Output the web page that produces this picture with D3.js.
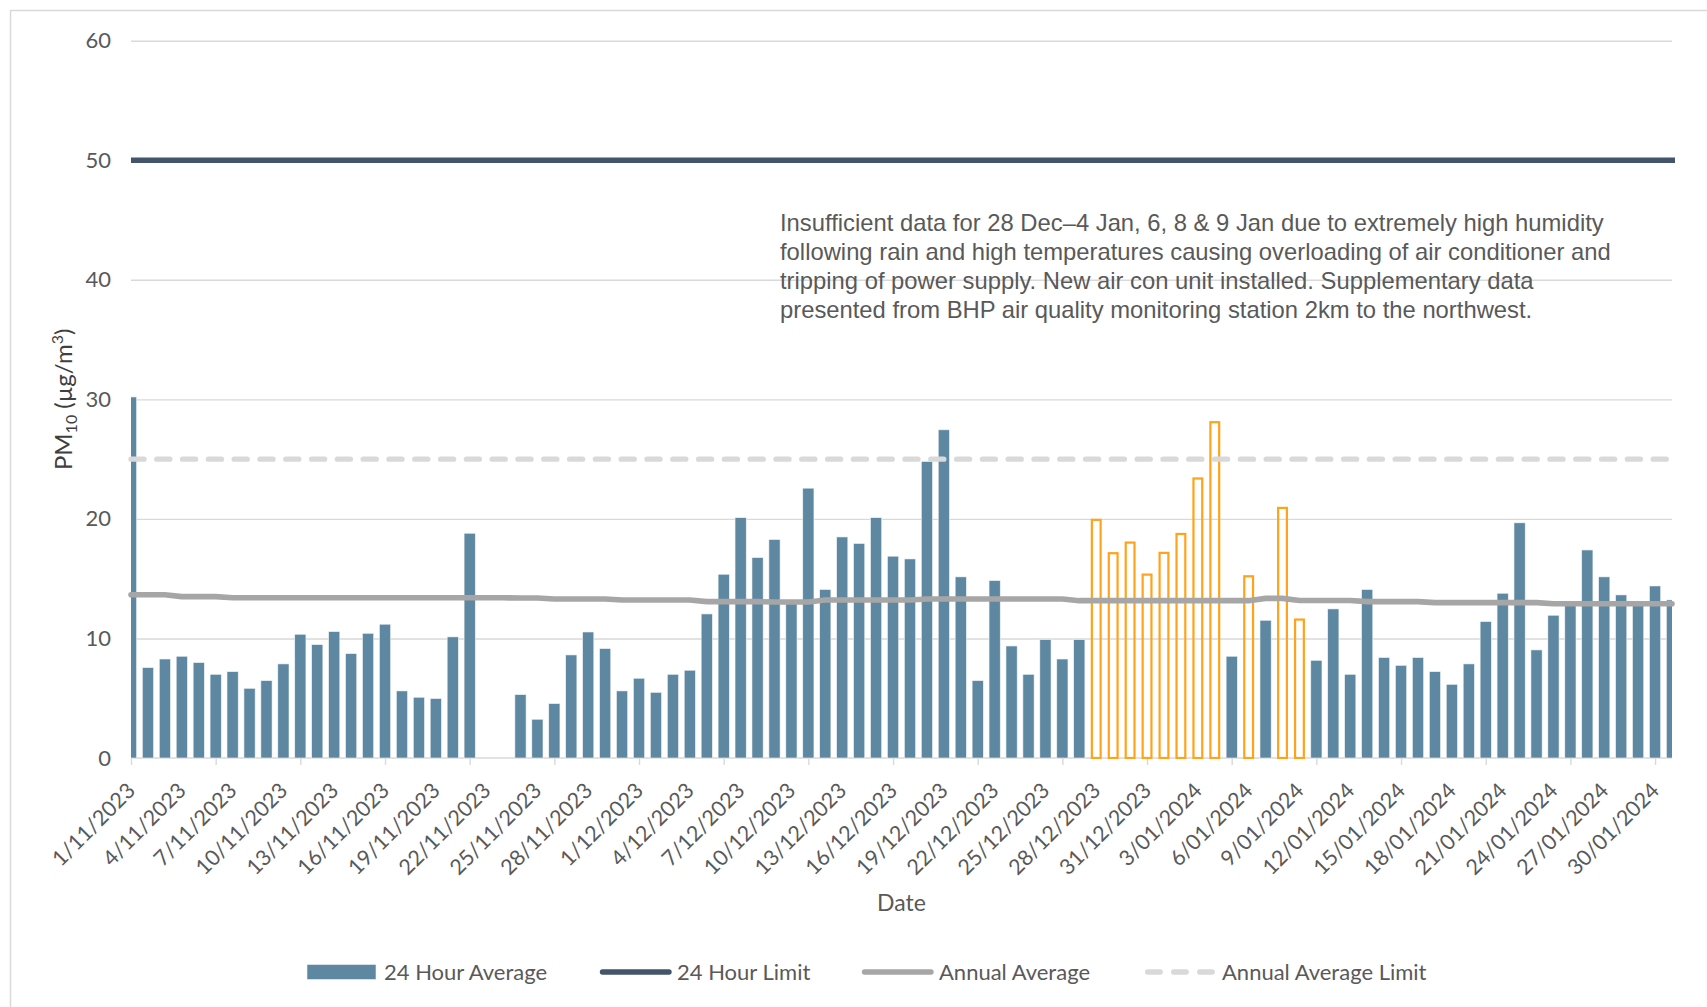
<!DOCTYPE html>
<html><head><meta charset="utf-8">
<script src="https://cdn.jsdelivr.net/npm/d3@7"></script>
<style>body{margin:0;background:#fff} svg{display:block}</style>
</head><body>
<svg id="c" width="1707" height="1007"></svg>
<script>
// ---------- DATA ----------
const dates = [
 "1/11/2023","2/11/2023","3/11/2023","4/11/2023","5/11/2023","6/11/2023","7/11/2023","8/11/2023","9/11/2023","10/11/2023",
 "11/11/2023","12/11/2023","13/11/2023","14/11/2023","15/11/2023","16/11/2023","17/11/2023","18/11/2023","19/11/2023","20/11/2023",
 "21/11/2023","22/11/2023","23/11/2023","24/11/2023","25/11/2023","26/11/2023","27/11/2023","28/11/2023","29/11/2023","30/11/2023",
 "1/12/2023","2/12/2023","3/12/2023","4/12/2023","5/12/2023","6/12/2023","7/12/2023","8/12/2023","9/12/2023","10/12/2023",
 "11/12/2023","12/12/2023","13/12/2023","14/12/2023","15/12/2023","16/12/2023","17/12/2023","18/12/2023","19/12/2023","20/12/2023",
 "21/12/2023","22/12/2023","23/12/2023","24/12/2023","25/12/2023","26/12/2023","27/12/2023","28/12/2023","29/12/2023","30/12/2023",
 "31/12/2023","1/01/2024","2/01/2024","3/01/2024","4/01/2024","5/01/2024","6/01/2024","7/01/2024","8/01/2024","9/01/2024",
 "10/01/2024","11/01/2024","12/01/2024","13/01/2024","14/01/2024","15/01/2024","16/01/2024","17/01/2024","18/01/2024","19/01/2024",
 "20/01/2024","21/01/2024","22/01/2024","23/01/2024","24/01/2024","25/01/2024","26/01/2024","27/01/2024","28/01/2024","29/01/2024",
 "30/01/2024","31/01/2024"
];
// 24 hour average PM10 (station data); null = no data
const pm10 = [
 30.2, 7.56, 8.28, 8.51, 7.98, 7.0, 7.22, 5.83, 6.47, 7.87,
 10.35, 9.48, 10.57, 8.73, 10.43, 11.19, 5.61, 5.08, 4.97, 10.13,
 18.8, null, null, 5.3, 3.24, 4.55, 8.62, 10.54, 9.15, 5.61,
 6.67, 5.49, 7.0, 7.34, 12.05, 15.37, 20.1, 16.76, 18.27, 12.9,
 22.57, 14.09, 18.49, 17.94, 20.1, 16.88, 16.65, 24.8, 27.45, 15.15,
 6.47, 14.84, 9.37, 7.0, 9.9, 8.28, 9.9, null, null, null,
 null, null, null, null, null, 8.51, null, 11.52, null, null,
 8.17, 12.47, 7.0, 14.09, 8.4, 7.75, 8.4, 7.22, 6.16, 7.87,
 11.41, 13.78, 19.67, 9.04, 11.94, 13.0, 17.4, 15.15, 13.64, 12.8,
 14.39, 13.22
];
// supplementary data (BHP station), shown as orange outlined bars
const supplementary = [
 null, null, null, null, null, null, null, null, null, null,
 null, null, null, null, null, null, null, null, null, null,
 null, null, null, null, null, null, null, null, null, null,
 null, null, null, null, null, null, null, null, null, null,
 null, null, null, null, null, null, null, null, null, null,
 null, null, null, null, null, null, null, 19.92, 17.13, 18.02,
 15.34, 17.16, 18.74, 23.38, 28.09, null, 15.2, null, 20.92, 11.58,
 null, null, null, null, null, null, null, null, null, null,
 null, null, null, null, null, null, null, null, null, null,
 null, null
];
const annualAverage = [
 13.65, 13.65, 13.65, 13.5, 13.5, 13.5, 13.4, 13.4, 13.4, 13.4,
 13.4, 13.4, 13.4, 13.4, 13.4, 13.4, 13.4, 13.4, 13.4, 13.4,
 13.4, 13.4, 13.4, 13.38, 13.38, 13.3, 13.3, 13.3, 13.3, 13.22,
 13.22, 13.22, 13.22, 13.22, 13.08, 13.08, 13.08, 13.08, 13.05, 13.05,
 13.05, 13.22, 13.22, 13.22, 13.22, 13.22, 13.22, 13.3, 13.3, 13.3,
 13.3, 13.3, 13.3, 13.3, 13.3, 13.3, 13.16, 13.16, 13.16, 13.16,
 13.16, 13.16, 13.16, 13.16, 13.16, 13.16, 13.16, 13.35, 13.35, 13.18,
 13.18, 13.18, 13.18, 13.08, 13.08, 13.08, 13.08, 13.0, 13.0, 13.0,
 13.0, 13.0, 13.0, 13.0, 12.9, 12.9, 12.9, 12.9, 12.9, 12.9,
 12.9, 12.9
];
const limit24h = 50;
const annualAverageLimit = 25;
const yTicks = [0, 10, 20, 30, 40, 50, 60];
const xLabelDates = dates.filter((d, i) => i % 3 === 0);
const xTickDates = dates.filter((d, i) => i % 5 === 0);
const legendItems = ["24 Hour Average", "24 Hour Limit", "Annual Average", "Annual Average Limit"];
const noteLines = [
 "Insufficient data for 28 Dec\u20134 Jan, 6, 8 & 9 Jan due to extremely high humidity",
 "following rain and high temperatures causing overloading of air conditioner and",
 "tripping of power supply. New air con unit installed. Supplementary data",
 "presented from BHP air quality monitoring station 2km to the northwest."
];

// ---------- LAYOUT ----------
const L = 131, R = 1672, T = 40.7, B = 758;
const C = {
  bar: "#5e87a1", orange: "#ffa31a", limit: "#44546a", avg: "#a6a6a6",
  avgLim: "#d9d9d9", grid: "#d9d9d9", text: "#595959"
};
const FONT = "Lato, 'Open Sans', sans-serif";

const svg = d3.select("#c");
svg.append("rect").attr("width", 1707).attr("height", 1007).attr("fill", "#fff");
svg.append("rect").attr("x", 10.5).attr("y", 10.5).attr("width", 1760).attr("height", 1060)
  .attr("fill", "none").attr("stroke", "#d9d9d9").attr("stroke-width", 1.5);

const x = d3.scalePoint().domain(dates).range([L, R]).padding(0);
const y = d3.scaleLinear().domain([0, 60]).range([B, T]);
const step = x.step();
const bw = step * 0.66;

svg.append("clipPath").attr("id", "plotclip")
  .append("rect").attr("x", L).attr("y", 0).attr("width", R - L).attr("height", B + 1);

// gridlines + y labels
const yAxis = svg.append("g").attr("transform", `translate(${L},0)`)
  .call(d3.axisLeft(y).tickValues(yTicks).tickSize(-(R - L)).tickPadding(20).tickFormat(d3.format("d")));
yAxis.select(".domain").remove();
yAxis.selectAll(".tick line").attr("stroke", C.grid).attr("stroke-width", 1.4)
  .filter(d => d === 0).remove();
yAxis.selectAll(".tick text").attr("fill", C.text).style("font-family", FONT).style("font-size", "22px");

// x axis line + ticks
const xAxis = svg.append("g").attr("transform", `translate(0,${B})`)
  .call(d3.axisBottom(x).tickValues(xTickDates).tickSize(7).tickFormat(""));
xAxis.select(".domain").attr("stroke", C.grid).attr("stroke-width", 1.6).attr("d", `M${L},0H${R}`);
xAxis.selectAll(".tick line").attr("stroke", C.grid).attr("stroke-width", 1.4);

// x labels
const xLab = svg.append("g").attr("transform", `translate(0,${B})`)
  .call(d3.axisBottom(x).tickValues(xLabelDates).tickSize(0));
xLab.select(".domain").remove();
xLab.selectAll(".tick text")
  .attr("x", 5).attr("y", 34).attr("dy", 0)
  .attr("text-anchor", "end")
  .attr("transform", "rotate(-45,5,34)")
  .attr("fill", C.text).style("font-family", FONT).style("font-size", "21.5px");

// bars
const gBars = svg.append("g").attr("clip-path", "url(#plotclip)");
gBars.selectAll("rect.b").data(dates.map((d, i) => ({ d, v: pm10[i] })).filter(o => o.v != null))
  .join("rect").attr("class", "b")
  .attr("x", o => x(o.d) - bw / 2).attr("width", bw)
  .attr("y", o => y(o.v)).attr("height", o => B - y(o.v))
  .attr("fill", C.bar).attr("stroke", "#eef3f6").attr("stroke-width", 0.6);
gBars.selectAll("rect.s").data(dates.map((d, i) => ({ d, v: supplementary[i] })).filter(o => o.v != null))
  .join("rect").attr("class", "s")
  .attr("x", o => x(o.d) - bw / 2 + 1.2).attr("width", bw - 2.4)
  .attr("y", o => y(o.v)).attr("height", o => B - y(o.v))
  .attr("fill", "none").attr("stroke", C.orange).attr("stroke-width", 2.2);

// lines
svg.append("line").attr("x1", L).attr("x2", R + 3).attr("y1", y(annualAverageLimit)).attr("y2", y(annualAverageLimit))
  .attr("stroke", C.avgLim).attr("stroke-width", 5.4).attr("stroke-linecap", "round")
  .attr("stroke-dasharray", "13 12.8");
svg.append("path").datum(annualAverage)
  .attr("d", d3.line().x((d, i) => x(dates[i])).y(d => y(d)))
  .attr("fill", "none").attr("stroke", C.avg).attr("stroke-width", 5.6).attr("stroke-linecap", "round");
svg.append("line").attr("x1", L).attr("x2", R + 3).attr("y1", y(limit24h)).attr("y2", y(limit24h))
  .attr("stroke", C.limit).attr("stroke-width", 5.6);

// annotation
svg.append("g").selectAll("text").data(noteLines).join("text")
  .attr("x", 780).attr("y", (d, i) => 231 + i * 29)
  .attr("fill", C.text).style("font-family", "'Liberation Sans', Arial, sans-serif").style("font-size", "23.8px")
  .text(d => d);

// axis titles
svg.append("text").attr("x", (L + R) / 2).attr("y", 911).attr("text-anchor", "middle")
  .attr("fill", C.text).style("font-family", FONT).style("font-size", "23px").text("Date");
const yt = svg.append("text").attr("transform", `translate(72,${(T + B) / 2}) rotate(-90)`)
  .attr("text-anchor", "middle").attr("fill", "#404040")
  .style("font-family", FONT).style("font-size", "24px");
yt.append("tspan").text("PM");
yt.append("tspan").attr("dy", 5).style("font-size", "16px").text("10");
yt.append("tspan").attr("dy", -5).text(" (\u00b5g/m");
yt.append("tspan").attr("dy", -9).style("font-size", "16px").text("3");
yt.append("tspan").attr("dy", 9).text(")");

// legend
const lg = svg.append("g");
const lgX = [307, 600, 862, 1145];
const lgY = 972;
legendItems.forEach((lab, i) => {
  const x0 = lgX[i];
  if (i === 0) lg.append("rect").attr("x", x0).attr("y", lgY - 7.5).attr("width", 69).attr("height", 15)
      .attr("fill", C.bar).attr("stroke", "#eef3f6").attr("stroke-width", 0.6);
  if (i === 1) lg.append("line").attr("x1", x0 + 2.5).attr("x2", x0 + 69).attr("y1", lgY).attr("y2", lgY)
      .attr("stroke", C.limit).attr("stroke-width", 5.4).attr("stroke-linecap", "round");
  if (i === 2) lg.append("line").attr("x1", x0 + 2.5).attr("x2", x0 + 69).attr("y1", lgY).attr("y2", lgY)
      .attr("stroke", C.avg).attr("stroke-width", 5.4).attr("stroke-linecap", "round");
  if (i === 3) lg.append("line").attr("x1", x0 + 2.7).attr("x2", x0 + 70).attr("y1", lgY).attr("y2", lgY)
      .attr("stroke", C.avgLim).attr("stroke-width", 5.4).attr("stroke-linecap", "round").attr("stroke-dasharray", "12.5 13.5");
  lg.append("text").attr("x", x0 + 77).attr("y", lgY + 7.5)
    .attr("fill", C.text).style("font-family", FONT).style("font-size", "22px").text(lab);
});
</script>
</body></html>
